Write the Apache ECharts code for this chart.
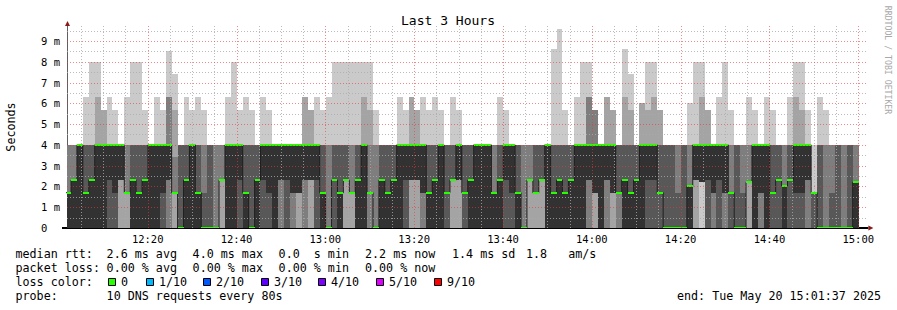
<!DOCTYPE html>
<html><head><meta charset="utf-8"><title>Last 3 Hours</title>
<script src="https://cdn.jsdelivr.net/npm/echarts@6.0.0/dist/echarts.min.js"></script>
<style>html,body{margin:0;padding:0;background:#fff;}#chart{width:897px;height:310px;}</style>
</head><body><div id="chart"></div>
<script>
// ---- data: 10 sorted ping RTTs (ms) per 80 s step, first step starts 12:01:24 ----
const firstStep = 721 + 24/60;   // minutes since midnight
const stepMin = 80/60;
const p1 = [0,0,0,0,0,0,0,0,0,0, 0,0,0,0,0,0,0,0,0,0, 0,0,0,0,0,0,0,0,0,0, 0,0,0,0,0,0,0,0,0,0,
 0,0,0,0,0,0,0,0,0,0, 0,0,0,0,0,0,0,0,0,0, 0,0,0,0,0,0,0,0,0,0, 0,0,0,0,0,0,0,0,0,0,
 0,0,0,0,0,0,0,0,0,0, 0,0,0,0,0,0,0,0,0,0, 0,0,0,0,0,0,0,0,0,0, 0,0,0,0,0,0,0,0,0,0,
 0,0,0,0,0,0,0,0,0,0, 0,0,0,0];
const p2 = [0,0,0,0,0,0,0,0,0,0, 0,0,0,0,0,0,0,0,0,0, 0,0,0,0,0,0,0,0,0,0, 0,0,0,0,0,0,0,0,0,0,
 0,0,0,0,0,0,0,0,0,0, 0,0,0,0,0,0,0,0,0,0, 0,0,0,0,0,0,0,0,0,0, 0,0,0,0,0,0,0,0,0,0,
 0,0,0,0,0,0,0,0,0,0, 0,0,0,0,0,0,0,0,0,0, 0,0,0,0,0,0,0,2.2,0,0, 0,0,0,0,0,0,0,0,0,0,
 0,0,0,0,0,0,0,0,0,0, 0,0,0,0];
const p3 = [0,0,0,0,0,0,0,0,0,2.3, 1.7,0,0,0,0,0,0,0,1.7,0, 0,0,0,0,0,0,2.3,0,0,0, 0,0,0,0,0,0,0,0,0,1.7,
 0,2.3,0,0,0,0,0,2.3,1.7,0, 0,0,0,0,0,0,0,0,2.3,2.3, 0,0,0,0,0,2.3,2.3,0,0,0, 0,0,0,0,0,0,0,0,2.3,1.7,
 2.3,0,0,0,0,0,0,0,0,1.7, 0,0,1.7,0,0,0,0,0,0,0, 0,0,0,0,0,0,2.3,2.2,0,0, 0,0,0,0,0,2.2,0,0,0,0,
 0,0,0,0,0,0,0,0,0,0, 0,0,0,0];
const p4 = [0,0,0,0,0,0,0,0,0,2.3, 1.7,0,0,0,0,0,0,2.3,1.7,0, 0,0,0,0,0,0,2.3,0,0,0, 0,0,0,0,0,0,2.3,0,1.7,1.7,
 2.3,2.3,0,0,0,0,0,2.3,1.7,0, 0,1.7,0,0,0,0,0,0,2.3,2.3, 1.7,0,0,0,0,2.3,2.3,0,0,0, 0,0,0,0,0,0,0,0,2.3,1.7,
 2.3,0,0,0,0,0,0,0,2.3,1.7, 0,2.3,1.7,1.7,0,0,0,0,0,0, 0,0,0,0,0,0,2.3,2.2,0,1.7, 0,1.7,0,0,0,2.2,0,1.7,0,0,
 0,0,0,0,0,2.3,0,0,0,0, 0,0,0,0];
const p5 = [0,0,0,0,0,0,0,2.3,1.7,2.3, 1.7,0,0,0,0,0,1.7,2.3,1.7,0, 0,0,0,0,0,0,2.3,0,0,2.3, 0,0,0,2.3,1.7,0,2.3,2.3,1.7,1.7,
 2.3,2.3,2.3,0,0,2.3,0,2.3,1.7,0, 0,1.7,0,0,0,0,0,2.3,2.3,2.3, 1.7,0,0,0,1.7,2.3,2.3,1.7,0,0, 0,0,0,0,2.3,1.7,0,0,2.3,1.7,
 2.3,0,0,0,0,0,0,0,2.3,1.7, 0,2.3,1.7,1.7,0,0,0,0,2.3,2.3, 1.7,0,0,0,0,0,2.3,2.2,2.3,1.7, 2.3,1.7,1.7,0,0,2.2,0,1.7,0,1.7,
 2.3,0,2.3,1.7,1.7,2.3,1.7,0,0,0, 0,0,0,0];
const p6 = [1.7,2.3,4,1.7,2.3,4,4,4,4,4, 1.7,2.3,1.7,2.3,4,4,4,4,1.7,0, 2.3,4,1.7,0,0,0,2.3,4,4,4, 1.7,0,2.3,4,4,4,4,4,4,4,
 4,4,4,1.7,0,2.3,1.7,2.3,1.7,2.3, 4,1.7,0,2.3,1.7,2.3,4,4,4,4, 4,1.7,2.3,4,1.7,2.3,4,1.7,2.3,4, 4,4,1.7,2.3,4,4,1.7,0,2.3,1.7,
 2.3,4,1.7,2.3,1.7,2.3,4,4,4,4, 4,4,4,1.7,2.3,1.7,2.3,4,4,4, 1.7,0,0,0,0,2.0,4,4,4,4, 4,4,1.7,0,0,2.2,4,4,4,1.7,
 2.3,2.0,2.3,4,4,4,1.7,0,0,0, 0,0,0,2.2];
const p7 = [1.7,2.3,4,4,4,4,4,4,4,4, 1.7,4,4,4,4,4,4,4,1.7,4, 4,4,4,1.7,4,0,2.3,4,4,4, 4,4,4,4,4,4,4,4,4,4,
 4,4,4,4,0,4,4,4,1.7,4, 4,1.7,0,4,4,4,4,4,4,4, 4,4,4,4,4,4,4,4,4,4, 4,4,1.7,4,4,4,4,0,2.3,4,
 4,4,4,4,4,4,4,4,4,4, 4,4,4,4,4,4,4,4,4,4, 4,4,4,1.7,4,2.0,4,4,4,4, 4,4,1.7,4,1.7,2.2,4,4,4,4,
 4,2.0,4,4,4,4,1.7,4,0,1.7, 4,0,4,2.2];
const p8 = [4,4,4,4,4,4,4,4,4,4, 4,4,4,4,4,4,4,6.3,3.4,4, 4,4,4,4,4,4,4,4,4,4, 4,4,4,4,4,4,4,4,4,4,
 4,4,4,4,4,4,4,4,4,4, 4,4,4,4,4,4,4,4,4,4, 4,4,4,4,4,4,4,4,4,4, 4,4,4,4,4,4,4,4,4,4,
 4,4,4,4,4,4,4,4,6.3,5.7, 4,4,4,4,4,4,4,4,4,4, 4,4,4,4,4,4,4,4,4,4, 4,4,4,4,4,4,4,4,4,4,
 4,4,4,4,4,4,1.7,4,4,4, 4,4,4,4];
const p9 = [4,4,4,4,4,6.3,5.7,4,4,4, 4,4,4,4,4,4,4,6.3,5.7,4, 4,4,4,4,4,4,4,4,4,4, 4,4,4,4,4,4,4,4,4,4,
 6.3,5.7,4,4,4,4,4,4,4,4, 6.3,5.7,4,4,4,4,4,4,6.3,5.7, 4,4,4,4,4,4,4,4,4,4, 4,4,4,4,4,4,4,4,4,4,
 4,4,4,4,4,4,4,4,6.3,5.7, 4,6.3,5.7,4,6.3,5.7,4,6.0,5.7,6.3, 5.7,4,4,4,4,4,4,6.3,5.7,4, 4,4,4,4,4,4,4,4,4,4,
 4,4,4,6.3,5.7,4,1.7,4,4,4, 4,4,4,4];
const p10 = [4,4,4,6.3,8,8,5.7,6.3,5.7,4, 6.3,8,8,5.7,4,6.3,5.7,8.5,7.4,4, 6.3,5.7,6.3,5.7,4,4,4,6.3,8,5.7, 6.3,5.7,4,6.3,5.7,4,4,4,4,4,
 6.3,5.7,6.3,5.7,6.3,8,8,8,8,8, 8,8,5.7,4,4,4,6.3,5.7,6.3,5.7, 6.3,5.7,6.3,5.7,4,6.3,5.7,4,4,4, 4,4,4,6.3,5.7,4,4,4,4,4,
 4,4,8.6,9.6,5.7,4,6.3,8,8,5.7, 4,6.3,5.7,4,8.6,7.4,4,6.0,8,8, 5.7,4,4,4,4,6.0,8,8,5.7,4, 6.3,8,5.7,4,4,6.3,5.7,4,6.3,5.7,
 4,4,6.3,8,8,5.7,4,6.3,5.7,4, 4,4,4,4];
const median = p6;
const P = [p1,p2,p3,p4,p5,p6,p7,p8,p9,p10];
const stepStarts = median.map((_,i)=>firstStep + i*stepMin);

// ---- axes / grid values ----
const xMin = 721 + 50/60, xMax = xMin + 180;
const xLabels = [740,760,780,800,820,840,860,880,900];
const yLabels = [0,1,2,3,4,5,6,7,8,9];
const vMajor = [740,760,780,800,820,840,860,880,900];
const vMinor = [725,730,735,745,750,755,765,770,775,785,790,795,805,810,815,825,830,835,845,850,855,865,870,875,885,890,895];
const hMajor = [1,2,3,4,5,6,7,8,9];
const hMinor = [0.5,1.5,2.5,3.5,4.5,5.5,6.5,7.5,8.5,9.5];

const bandColors = ['#cacaca','#a4a4a4','#7e7e7e','#585858','#323232'];
const mono = '"DejaVu Sans Mono", monospace';
const G = {left:67, top:25.4, width:799.4, height:202.6};
const MAJ = 'rgba(230,60,60,0.6)', MIN = 'rgba(170,170,170,0.8)';

function hhmm(v){const h=Math.floor(v/60+1e-6), m=Math.round(v-h*60);return h+':'+(m<10?'0':'')+m;}

function renderSmoke(params, api){
  const i = params.dataIndex, ts = api.value(0), te = ts + stepMin;
  const ch = [];
  for (let b=0;b<5;b++){
    const lo=P[b][i], hi=P[9-b][i];
    if (hi<=lo) continue;
    const a=api.coord([ts,hi]), c=api.coord([te,lo]);
    const x0=Math.round(a[0]), x1=Math.round(c[0]), y0=Math.round(a[1]), y1=Math.round(c[1]);
    ch.push({type:'rect',shape:{x:x0,y:y0,width:x1-x0,height:y1-y0},style:{fill:bandColors[b]}});
  }
  return {type:'group',children:ch};
}
function renderMedian(params, api){
  const ts=api.value(0), te=ts+stepMin, m=api.value(1);
  const a=api.coord([ts,m]), c=api.coord([te,m]);
  const x0=Math.round(a[0]), x1=Math.round(c[0]), y=Math.round(a[1]);
  return {type:'rect',shape:{x:x0,y:y-1,width:x1-x0,height:2},style:{fill:'#26ff00'}};
}
function renderV(params, api){
  const v=api.value(0), major=api.value(1)===1;
  const a=api.coord([v,0]), b=api.coord([v,9.75]);
  const x=Math.round(a[0])+0.5;
  return {type:'line',shape:{x1:x,y1:a[1],x2:x,y2:b[1]},style:{stroke:major?MAJ:MIN,lineWidth:1,lineDash:[1,2]}};
}
function renderH(params, api){
  const v=api.value(1), major=api.value(0)===1;
  const a=api.coord([xMin,v]), b=api.coord([xMax,v]);
  const y=Math.round(a[1])+0.5;
  return {type:'line',shape:{x1:a[0],y1:y,x2:b[0],y2:y},style:{stroke:major?MAJ:MIN,lineWidth:1,lineDash:[1,2]}};
}

const medLine = stepStarts.map((t,i)=>[t,median[i]]);
medLine.push([stepStarts[stepStarts.length-1]+stepMin, median[median.length-1]]);

const bottom = G.top+G.height, right = G.left+G.width;
function T(x,y,s,extra){return {type:'text',x:x,y:y,silent:true,style:Object.assign({text:s,fill:'#000',font:'11.7px '+mono,align:'left',verticalAlign:'middle'},extra||{})};}
const lossColors = [['#26ff00','0'],['#00b8ff','1/10'],['#0059ff','2/10'],['#5e00ff','3/10'],['#7e00ff','4/10'],['#dd00ff','5/10'],['#ff0000','9/10']];
const sqX = [108.5,146.5,203.5,261.5,318.5,376.5,434.5];
const graphics = [
  T(448,20,'Last 3 Hours',{font:'13px '+mono,align:'center'}),
  {type:'text',x:11,y:127,rotation:Math.PI/2,style:{text:'Seconds',fill:'#000',font:'11.7px '+mono,align:'center',verticalAlign:'middle'}},
  {type:'text',x:888,y:60,rotation:-Math.PI/2,style:{text:'RRDTOOL / TOBI OETIKER',fill:'#a8a8a8',font:'8.2px '+mono,align:'center',verticalAlign:'middle'}},
  T(15.5,254,'median rtt:'),T(106.6,254,'2.6 ms avg'),T(192.6,254,'4.0 ms max'),T(278.6,254,'0.0  s min'),T(365,254,'2.2 ms now'),T(452,254,'1.4 ms sd'),T(526,254,'1.8   am/s'),
  T(15.5,268,'packet loss:'),T(106.6,268,'0.00 % avg'),T(192.6,268,'0.00 % max'),T(278.6,268,'0.00 % min'),T(365,268,'0.00 % now'),
  T(15.5,282,'loss color:'),
  T(15.5,296,'probe:'),T(106.6,296,'10 DNS requests every 80s'),T(677,296,'end: Tue May 20 15:01:37 2025'),
  {type:'line',shape:{x1:62,y1:bottom,x2:right+2,y2:bottom},style:{stroke:'#000',lineWidth:2}},
  {type:'line',shape:{x1:G.left+0.5,y1:bottom,x2:G.left+0.5,y2:G.top},style:{stroke:'#606060',lineWidth:1}},
  {type:'polygon',shape:{points:[[right+2,bottom-2.5],[right+7,bottom],[right+2,bottom+2.5]]},style:{fill:'#8b1a1a'}},
  {type:'polygon',shape:{points:[[G.left-2,G.top+0.5],[G.left+0.5,G.top-4.5],[G.left+3,G.top+0.5]]},style:{fill:'#8b1a1a'}}
];
lossColors.forEach((lc,j)=>{
  graphics.push({type:'rect',shape:{x:sqX[j],y:278.5,width:7,height:7},style:{fill:lc[0],stroke:'#000',lineWidth:1}});
  graphics.push(T(sqX[j]+12.5,282,lc[1]));
});

const chart = echarts.init(document.getElementById('chart'),null,{renderer:'svg'});
const itemData = stepStarts.map((t,i)=>[t,median[i]]);
chart.setOption({
  animation:false,
  backgroundColor:'#fff',
  grid:G,
  xAxis:{type:'value',min:xMin,max:xMax,axisLine:{show:false},axisTick:{show:false},splitLine:{show:false},
    axisLabel:{customValues:xLabels,formatter:hhmm,fontFamily:mono,fontSize:10.5,color:'#000',margin:5}},
  yAxis:{type:'value',min:0,max:9.75,axisLine:{show:false},axisTick:{show:false},splitLine:{show:false},
    axisLabel:{customValues:yLabels,formatter:v=>v===0?'0':v+' m',fontFamily:mono,fontSize:10.5,color:'#000',margin:26,align:'left'}},
  series:[
    {type:'custom',name:'smoke',renderItem:renderSmoke,clip:true,z:1,data:itemData,silent:true},
    {type:'line',name:'medianLine',data:medLine,step:'end',showSymbol:false,symbol:'none',clip:true,z:2,silent:true,lineStyle:{color:'#202020',width:1}},
    {type:'custom',name:'median',renderItem:renderMedian,clip:true,z:3,data:itemData,silent:true},
    {type:'custom',name:'vgrid',renderItem:renderV,z:4,silent:true,data:vMinor.map(v=>[v,0]).concat(vMajor.map(v=>[v,1]))},
    {type:'custom',name:'hgrid',renderItem:renderH,z:4,silent:true,data:hMinor.map(v=>[0,v]).concat(hMajor.map(v=>[1,v]))}
  ],
  graphic:graphics
});
</script></body></html>
